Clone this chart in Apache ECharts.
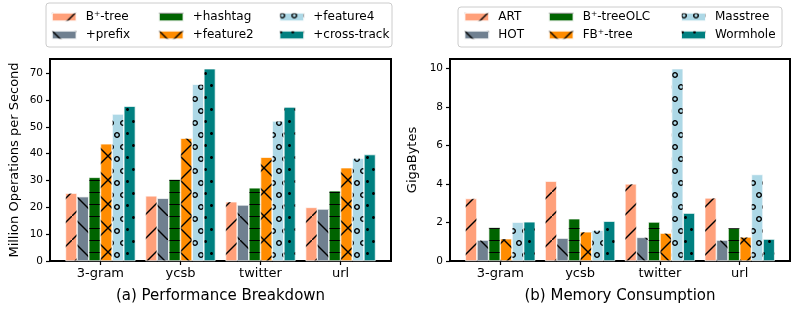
<!DOCTYPE html>
<html>
<head>
<meta charset="utf-8">
<script src="https://cdn.jsdelivr.net/npm/echarts@6/dist/echarts.min.js"></script>
<style>
html,body{margin:0;padding:0;background:#fff;}
#main{width:798px;height:312px;}
</style>
</head>
<body>
<div id="main"></div>
<script>
// ---- data ----
const categories = ['3-gram', 'ycsb', 'twitter', 'url'];

const perfNames = ['B\u207A-tree', '+prefix', '+hashtag', '+feature2', '+feature4', '+cross-track'];
const perfBtree    = [25.3, 24.3, 22.1, 20.0];
const perfPrefix   = [24.0, 23.4, 20.9, 19.4];
const perfHashtag  = [31.2, 30.5, 27.3, 26.2];
const perfFeature2 = [43.7, 45.8, 38.7, 34.8];
const perfFeature4 = [54.8, 65.9, 52.2, 38.3];
const perfCross    = [57.7, 71.7, 57.4, 39.7];

const memNames = ['ART', 'HOT', 'B\u207A-treeOLC', 'FB\u207A-tree', 'Masstree', 'Wormhole'];
const memART      = [3.25, 4.15, 4.01, 3.28];
const memHOT      = [1.09, 1.19, 1.23, 1.09];
const memOLC      = [1.75, 2.20, 2.03, 1.73];
const memFB       = [1.16, 1.52, 1.45, 1.25];
const memMasstree = [2.02, 1.60, 10.0, 4.50];
const memWormhole = [2.04, 2.07, 2.49, 1.14];

const perfTicks = [0, 10, 20, 30, 40, 50, 60, 70];
const memTicks = [0, 2, 4, 6, 8, 10];

const perfYMax = 75.3;
const memYMax = 10.5;

// ---- styles ----
const FONT = 'DejaVu Sans';
const colors = ['#FFA07A', '#708090', '#006400', '#FF8C00', '#ADD8E6', '#008080'];

function poly(cx, cy, r, n, ccw) {
  const pts = [];
  for (let i = 0; i < n; i++) {
    const a = (ccw ? -1 : 1) * 2 * Math.PI * i / n;
    pts.push((cx + r * Math.cos(a)).toFixed(3) + ',' + (cy + r * Math.sin(a)).toFixed(3));
  }
  return 'M' + pts.join('L') + 'Z';
}
function ring(cx, cy, ro, ri) { return poly(cx, cy, ro, 16, false) + ' ' + poly(cx, cy, ri, 16, true); }

const ringPath = 'path://' + ring(3, 3, 3, 1.6) + ' ' + ring(9, 15, 3, 1.6);
const dotPath = 'path://' + poly(1.5, 1.5, 1.5, 16, false) + ' ' + poly(7.5, 13.5, 1.5, 16, false);

const decals = [
  { symbol: 'path://M0,23L23,0L24,0L24,1L1,24L0,24Z', symbolSize: 1, dashArrayX: [24, 0], dashArrayY: [24, 0], color: '#000', symbolKeepAspect: false },
  { symbol: 'path://M0,0L1,0L24,23L24,24L23,24L0,1Z', symbolSize: 1, dashArrayX: [24, 0], dashArrayY: [24, 0], color: '#000', symbolKeepAspect: false },
  { symbol: 'rect', symbolSize: 1, dashArrayX: [1, 0], dashArrayY: [1, 11], color: '#000' },
  { symbol: 'path://M0,0L1,0L24,23L24,24L23,24L0,1Z M0,23L23,0L24,0L24,1L1,24L0,24Z', symbolSize: 1, dashArrayX: [24, 0], dashArrayY: [24, 0], color: '#000', symbolKeepAspect: false },
  { symbol: ringPath, symbolSize: 1, dashArrayX: [12, 0], dashArrayY: [18, 6], color: '#000', symbolKeepAspect: false },
  { symbol: dotPath, symbolSize: 1, dashArrayX: [9, 3], dashArrayY: [15, 9], color: '#000', symbolKeepAspect: false }
];

const perfSeriesData = [perfBtree, perfPrefix, perfHashtag, perfFeature2, perfFeature4, perfCross];
const memSeriesData = [memART, memHOT, memOLC, memFB, memMasstree, memWormhole];

function makeSeries(names, arrays, axisIndex) {
  return names.map((name, k) => ({
    type: 'bar',
    name: name,
    xAxisIndex: axisIndex,
    yAxisIndex: axisIndex,
    barWidth: 11.67,
    barGap: '0%',
    data: arrays[k].map((v, i) => [i, v]),
    itemStyle: {
      color: colors[k],
      borderColor: 'rgba(255,255,255,0.7)',
      borderWidth: 0.6,
      decal: decals[k]
    },
    emphasis: { disabled: true },
    animation: false
  }));
}

const catIdx = categories.map((c, i) => i);

function makeXAxis(gridIndex) {
  return {
    type: 'value',
    gridIndex: gridIndex,
    min: -0.63,
    max: 3.63,
    splitLine: { show: false },
    axisLine: { show: false, onZero: false },
    axisTick: { show: true, customValues: catIdx, length: 4, lineStyle: { color: '#000', width: 1.2 } },
    axisLabel: {
      customValues: catIdx,
      formatter: v => categories[Math.round(v)] || '',
      fontFamily: FONT, fontSize: 13, color: '#000', margin: 6
    }
  };
}

function makeYAxis(gridIndex, max, ticks, name, gap) {
  return {
    type: 'value',
    gridIndex: gridIndex,
    min: 0,
    max: max,
    name: name,
    nameLocation: 'middle',
    nameGap: gap,
    nameTextStyle: { fontFamily: FONT, fontSize: 13, color: '#000' },
    splitLine: { show: false },
    axisLine: { show: false, onZero: false },
    axisTick: { show: true, customValues: ticks, length: 4, lineStyle: { color: '#000', width: 1.2 } },
    axisLabel: { customValues: ticks, fontFamily: FONT, fontSize: 10.5, color: '#000', margin: 7 }
  };
}

function makeLegends(names, xs) {
  const out = [];
  for (let c = 0; c < 3; c++) {
    out.push({
      orient: 'vertical',
      left: xs[c],
      top: 10,
      padding: 0,
      itemWidth: 25,
      itemHeight: 9,
      itemGap: 4,
      icon: 'rect',
      selectedMode: false,
      data: [names[c * 2], names[c * 2 + 1]],
      textStyle: { fontFamily: FONT, fontSize: 12, color: '#000', lineHeight: 14, padding: [0, 0, 0, 4] }
    });
  }
  return out;
}

const chart = echarts.init(document.getElementById('main'), null, { renderer: 'canvas' });
chart.setOption({
  backgroundColor: '#fff',
  animation: false,
  textStyle: { fontFamily: FONT },
  grid: [
    { left: 50, top: 59, width: 341, height: 202, show: true, borderColor: '#000', borderWidth: 2, backgroundColor: 'transparent' },
    { left: 450, top: 59, width: 340, height: 202, show: true, borderColor: '#000', borderWidth: 2, backgroundColor: 'transparent' }
  ],
  xAxis: [makeXAxis(0), makeXAxis(1)],
  yAxis: [
    makeYAxis(0, perfYMax, perfTicks, 'Million Operations per Second', 28.5),
    makeYAxis(1, memYMax, memTicks, 'GigaBytes', 31)
  ],
  legend: makeLegends(perfNames, [50.7, 157.7, 278.3]).concat(makeLegends(memNames, [463.3, 547.7, 680])),
  graphic: [
    { type: 'rect', z: -1, shape: { x: 46, y: 3, width: 346, height: 44, r: 3 }, style: { fill: '#fff', stroke: '#cccccc', lineWidth: 1 } },
    { type: 'rect', z: -1, shape: { x: 458, y: 7, width: 324, height: 40, r: 3 }, style: { fill: '#fff', stroke: '#cccccc', lineWidth: 1 } },
    { type: 'text', x: 220.5, y: 296, style: { text: '(a) Performance Breakdown', align: 'center', verticalAlign: 'middle', font: '15px "DejaVu Sans"', fill: '#000' } },
    { type: 'text', x: 620, y: 296, style: { text: '(b) Memory Consumption', align: 'center', verticalAlign: 'middle', font: '15px "DejaVu Sans"', fill: '#000' } }
  ],
  series: makeSeries(perfNames, perfSeriesData, 0).concat(makeSeries(memNames, memSeriesData, 1))
});
</script>
</body>
</html>
